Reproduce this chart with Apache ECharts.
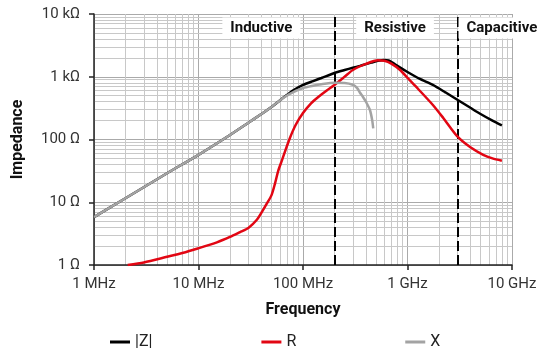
<!DOCTYPE html>
<html>
<head>
<meta charset="utf-8">
<script src="https://cdn.jsdelivr.net/npm/echarts@6/dist/echarts.min.js"></script>
<style>
  html, body { margin: 0; padding: 0; background: #fff; }
  #chart { width: 550px; height: 353px; }
</style>
</head>
<body>
<div id="chart"></div>
<script>
// frequency in MHz, impedance in ohm
const zFreq = [1, 2, 5, 10, 20, 30, 40, 50, 60, 70, 80, 100, 125, 150, 200, 250, 300, 350, 400, 450, 520, 600, 660, 730, 800, 1000, 1300, 1750, 2300, 3000, 4000, 5000, 6500, 8000];
const zVals = [5.8, 11.6, 29, 57, 118, 185, 255, 330, 420, 510, 600, 739, 853, 955, 1148, 1280, 1390, 1490, 1590, 1680, 1790, 1845, 1820, 1650, 1490, 1190, 930, 740, 565, 430, 320, 255, 200, 168];

const rFreq = [2.1, 3, 5, 7, 10, 15, 20, 25, 30, 36, 41, 45, 50, 54, 58, 63, 74, 85, 100, 120, 141, 170, 200, 250, 300, 400, 520, 600, 700, 850, 1000, 1200, 1750, 2200, 3000, 4000, 5300, 6500, 8000];
const rVals = [1.0, 1.1, 1.35, 1.55, 1.85, 2.3, 2.8, 3.35, 3.9, 5.2, 7.3, 9.5, 13, 20, 32, 47, 100, 170, 264, 380, 481, 610, 739, 1000, 1281, 1600, 1830, 1800, 1620, 1280, 960, 700, 355, 220, 112, 75, 57, 50, 46];

const xFreq = [1, 2, 5, 10, 20, 30, 40, 50, 60, 70, 80, 100, 125, 150, 200, 250, 300, 330, 350, 375, 400, 437, 460, 470];
const xVals = [5.8, 11.6, 29, 57, 118, 185, 255, 330, 420, 500, 565, 662, 720, 760, 800, 795, 745, 660, 560, 476, 400, 295, 200, 150];

const xTickLabels = ['1 MHz', '10 MHz', '100 MHz', '1 GHz', '10 GHz'];
const yTickLabels = ['1 Ω', '10 Ω', '100 Ω', '1 kΩ', '10 kΩ'];

const boundaries = [200, 3000];
const regions = [
  { name: 'Inductive', freq: 40 },
  { name: 'Resistive', freq: 760 },
  { name: 'Capacitive', freq: 8000 }
];
const regionLabelZ = 6000;

// minor grid at 2..9 of every decade
const minorSteps = [2, 3, 4, 5, 6, 7, 8, 9];
const decades = [1, 10, 100, 1000];
const minorVals = [];
decades.forEach(d => minorSteps.forEach(s => minorVals.push(d * s)));

const FONT = 'Roboto, "Liberation Sans", sans-serif';

const pairs = (xs, ys) => xs.map((x, i) => [x, ys[i]]);

const chart = echarts.init(document.getElementById('chart'));

const option = {
  animation: false,
  textStyle: { fontFamily: FONT },
  grid: { left: 94, right: 38, top: 14, bottom: 88 },
  legend: {
    data: ['|Z|', 'R', 'X'],
    left: 110,
    top: 334,
    padding: 0,
    itemGap: 109,
    itemWidth: 20,
    itemHeight: 3,
    icon: 'rect',
    textStyle: { fontSize: 16, color: '#222', fontFamily: FONT }
  },
  xAxis: {
    type: 'log',
    logBase: 10,
    min: 1,
    max: 10000,
    name: 'Frequency',
    nameLocation: 'middle',
    nameGap: 37,
    nameTextStyle: { fontWeight: 'bold', fontSize: 16, color: '#111', fontFamily: FONT },
    axisLine: { show: true, onZero: false, lineStyle: { color: '#222', width: 1.5 } },
    axisTick: { show: true, length: 5, lineStyle: { color: '#222', width: 1.5 } },
    axisLabel: {
      margin: 12,
      fontSize: 15,
      color: '#333',
      formatter: v => xTickLabels[Math.round(Math.log10(v))]
    },
    splitLine: { show: true, lineStyle: { color: '#aaaaaa', width: 1 } }
  },
  yAxis: {
    type: 'log',
    logBase: 10,
    min: 1,
    max: 10000,
    name: 'Impedance',
    nameLocation: 'middle',
    nameGap: 68,
    nameTextStyle: { fontWeight: 'bold', fontSize: 16, color: '#111', fontFamily: FONT },
    axisLine: { show: true, onZero: false, lineStyle: { color: '#222', width: 1.5 } },
    axisTick: { show: true, length: 5, lineStyle: { color: '#222', width: 1.5 } },
    axisLabel: {
      margin: 14,
      fontSize: 15,
      color: '#333',
      formatter: v => yTickLabels[Math.round(Math.log10(v))]
    },
    splitLine: { show: true, lineStyle: { color: '#aaaaaa', width: 1 } }
  },
  series: [
    {
      // minor log grid, kept under the curves
      name: 'grid',
      type: 'line',
      data: [],
      silent: true,
      z: 0,
      markLine: {
        silent: true,
        z: 0,
        symbol: ['none', 'none'],
        label: { show: false },
        lineStyle: { type: 'solid', color: '#c8c8c8', width: 1 },
        emphasis: { disabled: true },
        data: minorVals.map(v => ({ xAxis: v })).concat(minorVals.map(v => ({ yAxis: v })))
      }
    },
    {
      name: '|Z|',
      type: 'line',
      data: pairs(zFreq, zVals),
      showSymbol: false,
      smooth: 0.25,
      z: 3,
      lineStyle: { color: '#000', width: 2.5 },
      itemStyle: { color: '#000' },
      markLine: {
        silent: true,
        z: 2,
        symbol: ['none', 'none'],
        label: { show: false },
        lineStyle: { type: [10, 4], color: '#000', width: 2 },
        data: boundaries.map(v => ({ xAxis: v }))
      },
      markPoint: {
        silent: true,
        z: 2,
        symbol: 'rect',
        symbolSize: 0,
        label: {
          show: true,
          position: 'inside',
          formatter: '{b}',
          fontSize: 15,
          fontWeight: 'bold',
          color: '#111',
          fontFamily: FONT,
          backgroundColor: '#fff',
          padding: [3, 8]
        },
        data: regions.map(r => ({ name: r.name, coord: [r.freq, regionLabelZ] }))
      }
    },
    {
      name: 'R',
      type: 'line',
      data: pairs(rFreq, rVals),
      showSymbol: false,
      smooth: 0.25,
      z: 4,
      lineStyle: { color: '#e20613', width: 2.5 },
      itemStyle: { color: '#e20613' }
    },
    {
      name: 'X',
      type: 'line',
      data: pairs(xFreq, xVals),
      showSymbol: false,
      smooth: 0.25,
      z: 5,
      lineStyle: { color: '#a3a3a3', width: 2.5 },
      itemStyle: { color: '#a3a3a3' }
    }
  ]
};

chart.setOption(option);
</script>
</body>
</html>
